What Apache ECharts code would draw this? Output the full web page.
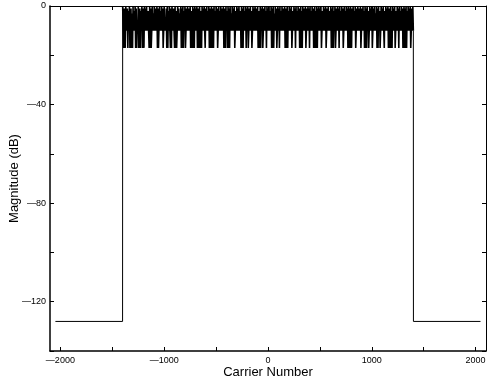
<!DOCTYPE html>
<html>
<head>
<meta charset="utf-8">
<script src="https://cdn.jsdelivr.net/npm/echarts@6/dist/echarts.min.js"></script>
<style>
  html, body { margin: 0; padding: 0; background: #fff; }
  #chart { width: 487px; height: 383px; }
</style>
</head>
<body>
<div id="chart"></div>
<script>
// carrier range and guard level
var carrierFirst = -2048
var carrierLast = 2047
var guardDb = -128
// active carriers: -1400 .. 1400, one value read every 5 carriers
var bandFirst = -1400
var bandStep = 5
var bandDb = [
  0,-10,-17,-1,-10,-17,0,-7,-10,-1,-17,-2,-10,0,-17,-10,-1,-17,-3,-17,
  0,-10,-2,-10,0,-17,-1,-17,-6,-10,0,-17,-10,-1,-17,-2,-10,0,-17,-1,
  -10,-17,0,-10,-1,-10,0,-6,-10,-2,-10,-17,0,-17,-1,-17,-10,0,-10,-3,
  -10,0,-10,-1,-7,-10,0,-17,-1,-17,-17,0,-10,-2,-10,0,-10,-1,-17,-10,
  0,-10,-5,-10,-1,-17,0,-17,-2,-10,0,-10,-17,-1,-17,0,-6,-10,-1,-10,
  -17,0,-17,-2,-17,-10,0,-10,-1,-10,-3,-10,0,-17,-1,-17,0,-17,-2,-10,
  0,-17,-10,-1,-10,0,-10,-7,-1,-10,0,-17,-10,-2,-17,0,-17,-1,-17,0,
  -10,-1,-10,0,-17,-10,-1,-17,0,-5,-17,-2,-17,0,-10,-1,-10,0,-10,-17,
  -1,-10,0,-10,-2,-10,0,-17,-10,-1,-17,0,-6,-17,-1,-17,0,-10,-2,-10,
  0,-10,-1,-17,-10,0,-10,-2,-10,0,-10,-1,-7,-10,0,-17,-10,-1,-17,0,
  -10,-2,-17,0,-17,-1,-17,0,-10,-3,-10,0,-10,-1,-10,0,-17,-10,-2,-10,
  0,-10,-1,-10,0,-6,-10,-2,-17,0,-17,-1,-17,0,-10,-2,-10,0,-17,-1,
  -10,0,-17,-10,-1,-10,0,-10,-2,-17,-10,0,-10,-1,-10,0,-5,-10,-1,-10,
  0,-17,-10,-2,-17,0,-17,-1,-10,0,-17,-10,-1,-10,0,-10,-2,-17,0,-10,
  -1,-10,0,-10,-2,-10,0,-17,-1,-17,0,-17,-3,-10,0,-10,-1,-17,-10,0,
  -10,-1,-17,0,-10,-2,-10,0,-10,-1,-7,-10,0,-17,-10,-1,-17,0,-17,-2,
  -10,0,-10,-1,-10,0,-17,-10,-2,-10,0,-10,-1,-17,0,-10,-2,-10,0,-10,
  -1,-17,-10,0,-17,-2,-17,0,-6,-10,-1,-10,0,-17,-10,-1,-10,0,-10,-1,
  -17,0,-10,-2,-10,0,-10,-1,-17,-10,0,-17,-2,-17,0,-17,-1,-10,0,-10,
  -1,-10,0,-17,-10,-2,-10,0,-10,-1,-10,0,-17,-10,-1,-10,0,-5,-10,-2,
  -10,0,-17,-1,-17,0,-17,-2,-10,0,-17,-10,-1,-10,0,-10,-1,-17,0,-10,
  -2,-10,0,-10,-1,-17,-10,0,-10,-2,-10,0,-10,-1,-17,0,-17,-1,-17,0,
  -10,-17,-1,-10,0,-10,-2,-10,0,-17,-10,-1,-10,0,-6,-10,-1,-10,0,-17,
  -10,-1,-10,0,-10,-2,-17,0,-17,-1,-17,0,-10,-2,-17,-10,0,-10,-1,-10,
  0,-17,-10,-1,-10,0,-10,-3,-10,0,-17,-1,-17,0,-10,-2,-17,-10,0,-10,
  -1,-10,0,-10,-17,-2,-10,0,-10,-1,-10,0,-17,-10,-1,-17,0,-17,-2,-17,
  0,-10,-1,-10,0,-17,-10,-2,-10,0,-10,-1,-17,0,-10,-2,-10,0,-10,-1,
  -17,-10,0,-17,-1,-17,0,-17,-2,-10,0,-10,-1,-10,0,-17,-10,-1,-10,0,
  -10
]
// ticks and labels
var xTicks = [-2000, -1500, -1000, -500, 0, 500, 1000, 1500, 2000]
var xLabels = [-2000, -1000, 0, 1000, 2000]
var yTicks = [-140, -120, -100, -80, -60, -40, -20, 0]
var yLabels = [-120, -80, -40, 0]

// band line and the two guard floors (drawn thinner)
var band = bandDb.map(function (v, i) {
  return [bandFirst + i * bandStep, v]
})
var bandLast = bandFirst + (bandDb.length - 1) * bandStep
var leftGuard = [[carrierFirst, guardDb], [bandFirst - 1, guardDb], [bandFirst, bandDb[0]]]
var rightGuard = [[bandLast, bandDb[bandDb.length - 1]], [bandLast + 1, guardDb], [carrierLast, guardDb]]

var font = 'Liberation Sans, Arial, Helvetica, sans-serif'
function fmt (v) {
  return v < 0 ? '\u2014' + Math.abs(v) : String(v)
}

function xAxisOf (pos, withLabels) {
  return {
    type: 'value', position: pos, min: -2100, max: 2100,
    axisLine: { show: true, onZero: false, lineStyle: { color: '#000', width: withLabels ? 1.5 : 1 } },
    axisTick: { show: true, inside: true, length: 4, customValues: xTicks, lineStyle: { color: '#000' } },
    axisLabel: { show: withLabels, customValues: xLabels, formatter: fmt, color: '#000',
      fontFamily: font, fontSize: 9, margin: 5 },
    splitLine: { show: false },
    name: withLabels ? 'Carrier Number' : '', nameLocation: 'middle', nameGap: 15,
    nameMoveOverlap: false,
    nameTextStyle: { color: '#000', fontFamily: font, fontSize: 13 }
  }
}
function yAxisOf (pos, withLabels) {
  return {
    type: 'value', position: pos, min: -140, max: 0, interval: 20,
    axisLine: { show: true, onZero: false, lineStyle: { color: '#000', width: withLabels ? 1.5 : 1 } },
    axisTick: { show: true, inside: true, length: 4, customValues: yTicks, lineStyle: { color: '#000' } },
    axisLabel: { show: withLabels, customValues: yLabels, formatter: fmt, color: '#000',
      fontFamily: font, fontSize: 9, margin: 4 },
    splitLine: { show: false },
    name: withLabels ? 'Magnitude (dB)' : '', nameLocation: 'middle', nameGap: 29,
    nameMoveOverlap: false,
    nameTextStyle: { color: '#000', fontFamily: font, fontSize: 13 }
  }
}

var chart = echarts.init(document.getElementById('chart'), null, { renderer: 'canvas' })
chart.setOption({
  animation: false,
  backgroundColor: '#fff',
  grid: { left: 50, top: 6, width: 436, height: 345, containLabel: false, outerBoundsMode: 'none' },
  xAxis: [xAxisOf('bottom', true), xAxisOf('top', false)],
  yAxis: [yAxisOf('left', true), yAxisOf('right', false)],
  series: [
    { type: 'line', data: leftGuard, symbol: 'none', lineStyle: { color: '#000', width: 1 } },
    { type: 'line', data: band, symbol: 'none', lineStyle: { color: '#000', width: 1.6 } },
    { type: 'line', data: rightGuard, symbol: 'none', lineStyle: { color: '#000', width: 1 } }
  ]
})
</script>
</body>
</html>
